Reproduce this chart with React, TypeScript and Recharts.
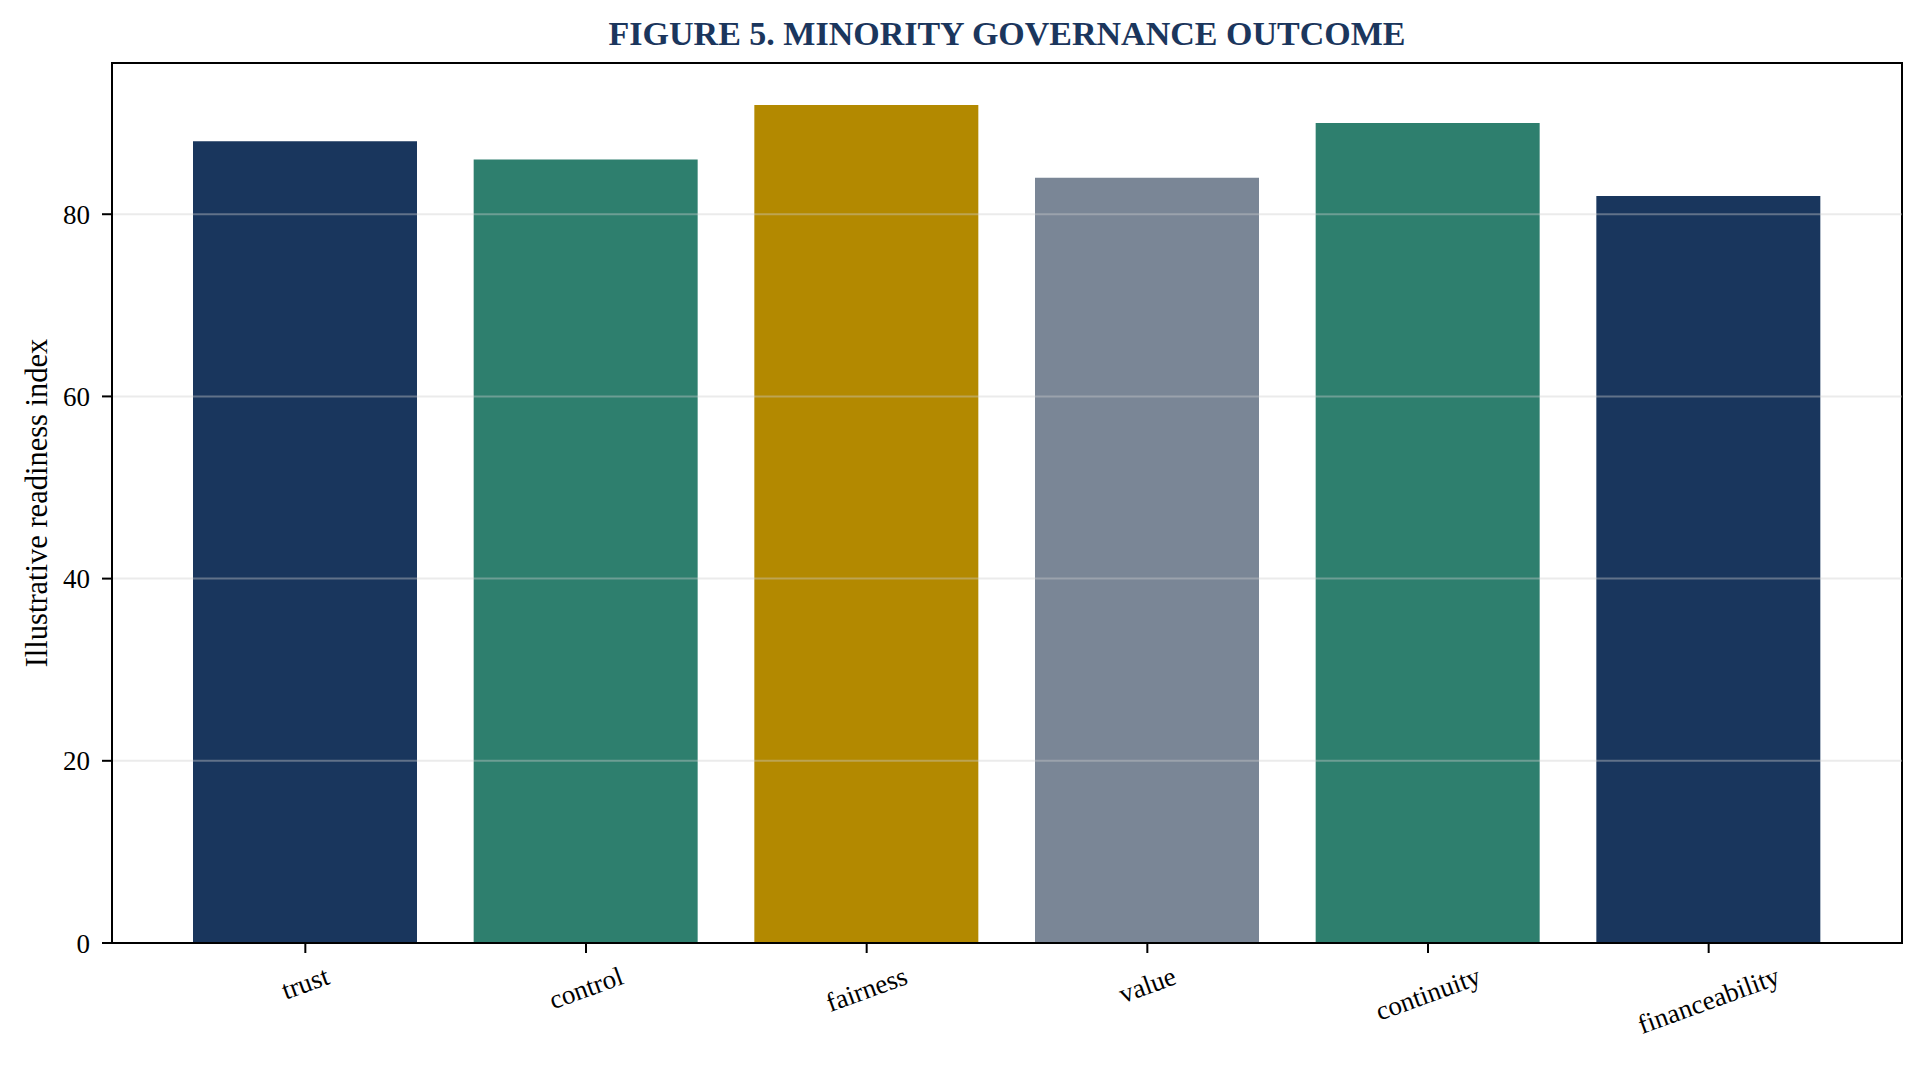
import React from "react";
import * as Recharts from "recharts";
import {
  BarChart,
  Bar,
  Cell,
  XAxis,
  YAxis,
  ReferenceLine,
} from "recharts";

const categories = ["trust", "control", "fairness", "value", "continuity", "financeability"];
const readiness = [88, 86, 92, 84, 90, 82];
const barColors = ["#19365D", "#2E7F6E", "#B38900", "#7A8696", "#2E7F6E", "#19365D"];
const yTicks = [0, 20, 40, 60, 80];
const gridLevels = [20, 40, 60, 80];

const data = categories.map((name, i) => ({ name, value: readiness[i] }));

const FONT = "'Liberation Serif', 'Times New Roman', serif";
const TICK_SIZE = 27;

// measure label width so the rotated label box hangs under the tick like matplotlib
function textWidth(text: string, size: number) {
  if (typeof document === "undefined") return text.length * size * 0.4;
  const c = document.createElement("canvas");
  const ctx = c.getContext("2d");
  if (!ctx) return text.length * size * 0.4;
  ctx.font = `${size}px ${FONT}`;
  return ctx.measureText(text).width;
}

const RotatedTick = (props: any) => {
  const { x, y, payload } = props;
  const label = String(payload.value);
  const rad = (20 * Math.PI) / 180;
  const w = textWidth(label, TICK_SIZE);
  const h = TICK_SIZE * 1.1;
  const boxH = w * Math.sin(rad) + h * Math.cos(rad);
  const cy = y + 8 + boxH / 2;
  return (
    <text
      transform={`translate(${x}, ${cy}) rotate(-20)`}
      textAnchor="middle"
      dominantBaseline="central"
      fontFamily={FONT}
      fontSize={TICK_SIZE}
      fill="#000"
    >
      {label}
    </text>
  );
};

const YLabel = (props: any) => {
  const { viewBox } = props;
  const cx = viewBox.x + 37;
  const cy = viewBox.y + viewBox.height / 2;
  return (
    <text
      transform={`translate(${cx}, ${cy}) rotate(-90)`}
      textAnchor="middle"
      dominantBaseline="central"
      fontFamily={FONT}
      fontSize={30.5}
      fill="#000"
    >
      Illustrative readiness index
    </text>
  );
};

// top + right spines, drawn around the plot area
const Frame = () => {
  const anyR = Recharts as any;
  const hook = anyR.usePlotArea || anyR.useOffset;
  const area = hook ? hook() : null;
  if (!area) return null;
  const x = area.x ?? area.left;
  const y = area.y ?? area.top;
  const w = area.width;
  const h = area.height;
  if (w == null || h == null) return null;
  return (
    <rect x={x} y={y} width={w} height={h} fill="none" stroke="#000" strokeWidth={2} />
  );
};

export default function App() {
  return (
    <div
      style={{
        position: "absolute",
        left: 0,
        top: 0,
        width: 1924,
        height: 1069,
        background: "#fff",
      }}
    >
      <div
        style={{
          position: "absolute",
          left: 112,
          width: 1790,
          top: 1,
          height: 66,
          lineHeight: "66px",
          textAlign: "center",
          fontFamily: FONT,
          fontWeight: "bold",
          fontSize: 34,
          color: "#1B365D",
        }}
      >
        FIGURE 5. MINORITY GOVERNANCE OUTCOME
      </div>
      <BarChart
        width={1924}
        height={1069}
        data={data}
        margin={{ top: 63, right: 22, bottom: 0, left: 0 }}
        barSize={224}
      >
        <XAxis
          dataKey="name"
          height={126}
          padding={{ left: 53, right: 53 }}
          axisLine={{ stroke: "#000", strokeWidth: 2 }}
          tickLine={{ stroke: "#000", strokeWidth: 2 }}
          tickSize={10}
          tickMargin={0}
          tick={<RotatedTick />}
          interval={0}
        />
        <YAxis
          width={112}
          domain={[0, (dataMax: number) => dataMax * 1.05]}
          ticks={yTicks}
          allowDataOverflow
          axisLine={{ stroke: "#000", strokeWidth: 2 }}
          tickLine={{ stroke: "#000", strokeWidth: 2 }}
          tickSize={10}
          tickMargin={12}
          tick={{ fontFamily: FONT, fontSize: TICK_SIZE, fill: "#000" }}
          label={<YLabel />}
        />
        <Bar dataKey="value" isAnimationActive={false}>
          {data.map((d, i) => (
            <Cell key={d.name} fill={barColors[i]} />
          ))}
        </Bar>
        {gridLevels.map((v) => (
          <ReferenceLine
            key={v}
            y={v}
            stroke="#cccccc"
            strokeOpacity={0.4}
            strokeWidth={2}
          />
        ))}
        <Frame />
      </BarChart>
    </div>
  );
}
